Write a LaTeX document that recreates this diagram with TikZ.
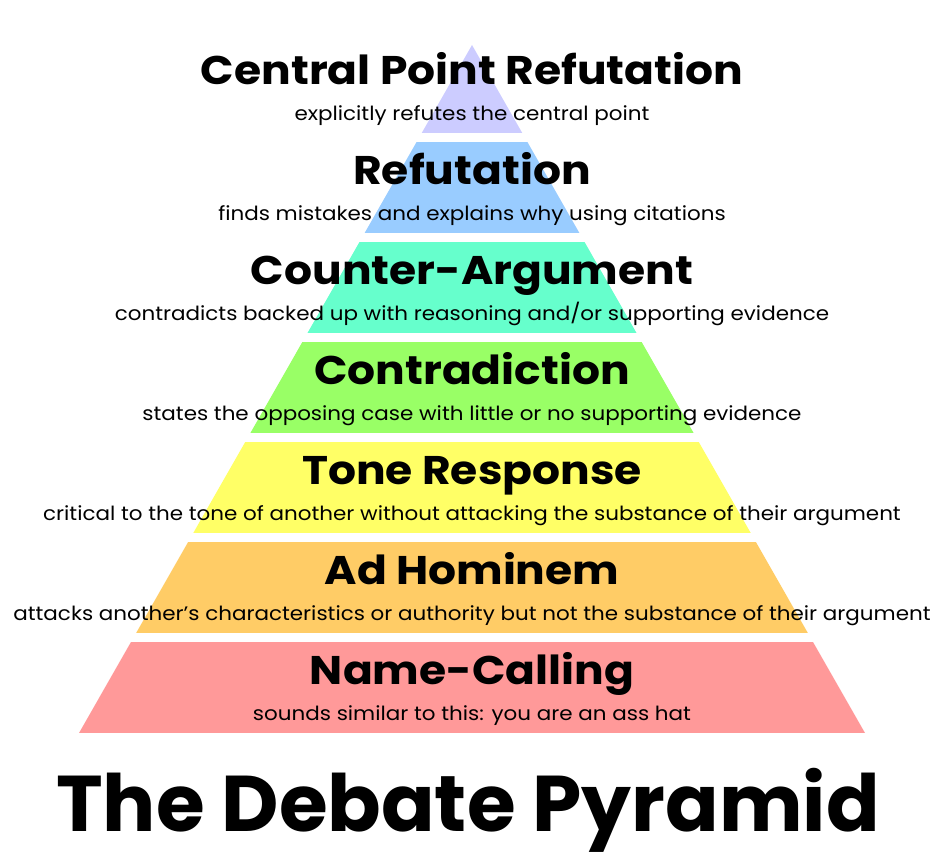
\documentclass[tikz,border=0pt]{standalone}
\usepackage{fontspec}
\setmainfont{Poppins}
\newfontfamily\namefont[FakeStretch=1.10]{Poppins}
\newfontfamily\notefont[FakeStretch=1.10]{Poppins}
\usepackage{tikz}
\definecolor{tierA}{HTML}{CCCCFF}
\definecolor{tierB}{HTML}{99CCFF}
\definecolor{tierC}{HTML}{66FFCC}
\definecolor{tierD}{HTML}{99FF66}
\definecolor{tierE}{HTML}{FFFF66}
\definecolor{tierF}{HTML}{FFCC66}
\definecolor{tierG}{HTML}{FF9999}

\begin{document}
\begin{tikzpicture}[x=1pt,y=-1pt,
    tiername/.style={anchor=base,font=\namefont\fontsize{40}{42}\selectfont\bfseries},
    tiernote/.style={anchor=base,font=\notefont\fontsize{19.5}{21}\selectfont}]
  \useasboundingbox (0,0) rectangle (944,859);
  % the seven tiers, cut out of one triangle
  \begin{scope}
    \clip (472,45) -- (865,733) -- (79,733) -- cycle;
    \fill[tierA] (0,0) rectangle (944,133);
    \foreach \c [count=\i] in {tierB,tierC,tierD,tierE,tierF,tierG}
      \fill[\c] (0,42+100*\i) rectangle (944,133+100*\i);
  \end{scope}
  % labels
  \node[tiername] (central) at (472,84) {Central Point Refutation};
  \node[tiernote] (centralnote) at (472,120) {explicitly refutes the central point};
  \node[tiername] (refut) at (472,184) {Refutation};
  \node[tiernote] (refutnote) at (472,220) {finds mistakes and explains why using citations};
  \node[tiername] (counter) at (472,284) {Counter-Argument};
  \node[tiernote] (counternote) at (472,320) {contradicts backed up with reasoning and/or supporting evidence};
  \node[tiername] (contra) at (472,384) {Contradiction};
  \node[tiernote] (contranote) at (472,420) {states the opposing case with little or no supporting evidence};
  \node[tiername] (tone) at (472,484) {Tone Response};
  \node[tiernote] (tonenote) at (472,520) {critical to the tone of another without attacking the substance of their argument};
  \node[tiername] (adhom) at (472,584) {Ad Hominem};
  \node[tiernote] (adhomnote) at (472,620) {attacks another’s characteristics or authority but not the substance of their argument};
  \node[tiername] (names) at (472,684) {Name-Calling};
  \node[tiernote] (namesnote) at (472,720) {sounds similar to this: you are an ass hat};
  \node[anchor=base,inner sep=0pt,font=\fontsize{79}{84}\selectfont\bfseries] (title) at (468,831) {The Debate Pyramid};
\end{tikzpicture}
\end{document}
